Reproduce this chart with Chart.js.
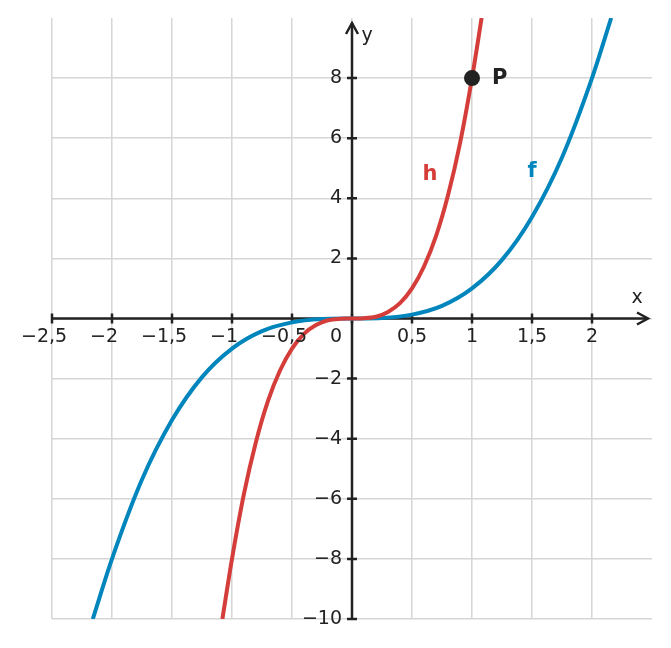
<!DOCTYPE html>
<html>
<head>
<meta charset="utf-8">
<script src="https://cdn.jsdelivr.net/npm/chart.js@4.4.1/dist/chart.umd.min.js"></script>
<style>
  html, body { margin: 0; padding: 0; background: #fff; }
  #wrap { width: 671px; height: 648px; position: relative; }
</style>
</head>
<body>
<div id="wrap"><canvas id="myChart"></canvas></div>
<script>
// f(x)
const fX = [-2.16, -2, -1.75, -1.5, -1.25, -1, -0.75, -0.5, -0.25, 0, 0.25, 0.5, 0.75, 1, 1.25, 1.5, 1.75, 2, 2.16];
const fY = [-10, -8, -5.36, -3.38, -1.95, -1, -0.42, -0.13, -0.02, 0, 0.02, 0.13, 0.42, 1, 1.95, 3.38, 5.36, 8, 10];
// h(x)
const hX = [-1.08, -1, -0.9, -0.8, -0.7, -0.6, -0.5, -0.4, -0.3, -0.2, -0.1, 0, 0.1, 0.2, 0.3, 0.4, 0.5, 0.6, 0.7, 0.8, 0.9, 1, 1.08];
const hY = [-10, -8, -5.83, -4.1, -2.74, -1.73, -1, -0.51, -0.22, -0.06, -0.01, 0, 0.01, 0.06, 0.22, 0.51, 1, 1.73, 2.74, 4.1, 5.83, 8, 10];
const pointP = [1, 8];

const xTicks = [-2.5, -2, -1.5, -1, -0.5, 0.5, 1, 1.5, 2];
const yTicks = [-10, -8, -6, -4, -2, 2, 4, 6, 8];
const curveLabels = [
  { text: "h", x: 0.65, y: 4.8, color: "#d43d3a" },
  { text: "f", x: 1.5, y: 4.9, color: "#0085bd" },
  { text: "P", x: 1.23, y: 8, color: "#222" }
];

const blue = "#0085bd";
const red = "#d43d3a";
const ink = "#222";

function toPoints(xs, ys) {
  return xs.map((x, i) => ({ x: x, y: ys[i] }));
}

function fmt(v) {
  return String(v).replace(".", ",").replace("-", "\u2212");
}

// axes with arrows, tick marks and labels through the origin
const axesPlugin = {
  id: "axes",
  beforeDatasetsDraw(chart) {
    const c = chart.ctx;
    const xs = chart.scales.x, ys = chart.scales.y;
    const ox = xs.getPixelForValue(0), oy = ys.getPixelForValue(0);
    const left = xs.getPixelForValue(-2.5), right = xs.getPixelForValue(2.5) - 4;
    const bottom = ys.getPixelForValue(-10), top = ys.getPixelForValue(10) + 5;
    c.save();
    c.strokeStyle = ink;
    c.lineWidth = 2.5;
    c.lineCap = "butt";
    c.beginPath();
    c.moveTo(left, oy); c.lineTo(right, oy);
    c.moveTo(ox, bottom); c.lineTo(ox, top);
    c.stroke();
    // arrow heads
    c.lineJoin = "miter";
    c.beginPath();
    c.moveTo(right - 11, oy - 6); c.lineTo(right, oy); c.lineTo(right - 11, oy + 6);
    c.moveTo(ox - 6, top + 11); c.lineTo(ox, top); c.lineTo(ox + 6, top + 11);
    c.stroke();
    // tick marks
    c.beginPath();
    xTicks.concat([0]).forEach(v => {
      const px = xs.getPixelForValue(v);
      c.moveTo(px, oy - 5); c.lineTo(px, oy + 5);
    });
    yTicks.concat([0]).forEach(v => {
      const py = ys.getPixelForValue(v);
      c.moveTo(ox - 5, py); c.lineTo(ox + 5, py);
    });
    c.stroke();
    c.restore();
  },
  afterDatasetsDraw(chart) {
    const c = chart.ctx;
    const xs = chart.scales.x, ys = chart.scales.y;
    const ox = xs.getPixelForValue(0), oy = ys.getPixelForValue(0);
    c.save();
    c.fillStyle = ink;
    c.font = "19px 'DejaVu Sans'";
    c.textBaseline = "middle";
    // x labels: digits centred on the tick, minus sign hanging to the left
    c.textAlign = "left";
    xTicks.forEach(v => {
      const s = fmt(v);
      const digits = s.replace("\u2212", "");
      const full = c.measureText(s).width;
      const dw = c.measureText(digits).width;
      const px = xs.getPixelForValue(v);
      c.fillText(s, px - dw / 2 - (full - dw), oy + 19);
    });
    c.textAlign = "center";
    c.fillText("0", ox - 16, oy + 19);
    c.textAlign = "right";
    yTicks.forEach(v => {
      c.fillText(fmt(v), ox - 10, ys.getPixelForValue(v));
    });
    c.textAlign = "center";
    c.fillText("x", xs.getPixelForValue(2.5) - 15, oy - 20);
    c.fillText("y", ox + 15, ys.getPixelForValue(10) + 18);
    c.font = "bold 21px 'DejaVu Sans'";
    curveLabels.forEach(l => {
      c.fillStyle = l.color;
      c.fillText(l.text, xs.getPixelForValue(l.x), ys.getPixelForValue(l.y));
    });
    c.restore();
  }
};

const data = {
  datasets: [
    {
      label: "f",
      data: toPoints(fX, fY),
      showLine: true,
      borderColor: blue,
      borderWidth: 4,
      pointRadius: 0,
      cubicInterpolationMode: "monotone",
      order: 3
    },
    {
      label: "h",
      data: toPoints(hX, hY),
      showLine: true,
      borderColor: red,
      borderWidth: 4,
      pointRadius: 0,
      cubicInterpolationMode: "monotone",
      order: 2
    },
    {
      label: "P",
      data: [{ x: pointP[0], y: pointP[1] }],
      showLine: false,
      pointRadius: 8,
      pointBackgroundColor: ink,
      pointBorderWidth: 0,
      order: 1
    }
  ]
};

const config = {
  type: "scatter",
  data: data,
  options: {
    responsive: true,
    maintainAspectRatio: false,
    animation: false,
    layout: { padding: { left: 52, right: 19, top: 18, bottom: 29 } },
    plugins: { legend: { display: false }, tooltip: { enabled: false } },
    scales: {
      x: {
        type: "linear", min: -2.5, max: 2.5,
        ticks: { display: false, stepSize: 0.5 },
        border: { display: false },
        grid: {
          drawTicks: false, lineWidth: 1.5,
          color: ctx => (ctx.tick && ctx.tick.value === 2.5) ? "rgba(0,0,0,0)" : "#d6d6d6"
        }
      },
      y: {
        type: "linear", min: -10, max: 10,
        ticks: { display: false, stepSize: 2 },
        border: { display: false },
        grid: {
          drawTicks: false, lineWidth: 1.5,
          color: ctx => (ctx.tick && ctx.tick.value === 10) ? "rgba(0,0,0,0)" : "#d6d6d6"
        }
      }
    }
  },
  plugins: [axesPlugin]
};

const ctx = document.getElementById("myChart");
new Chart(ctx, config);
</script>
</body>
</html>
